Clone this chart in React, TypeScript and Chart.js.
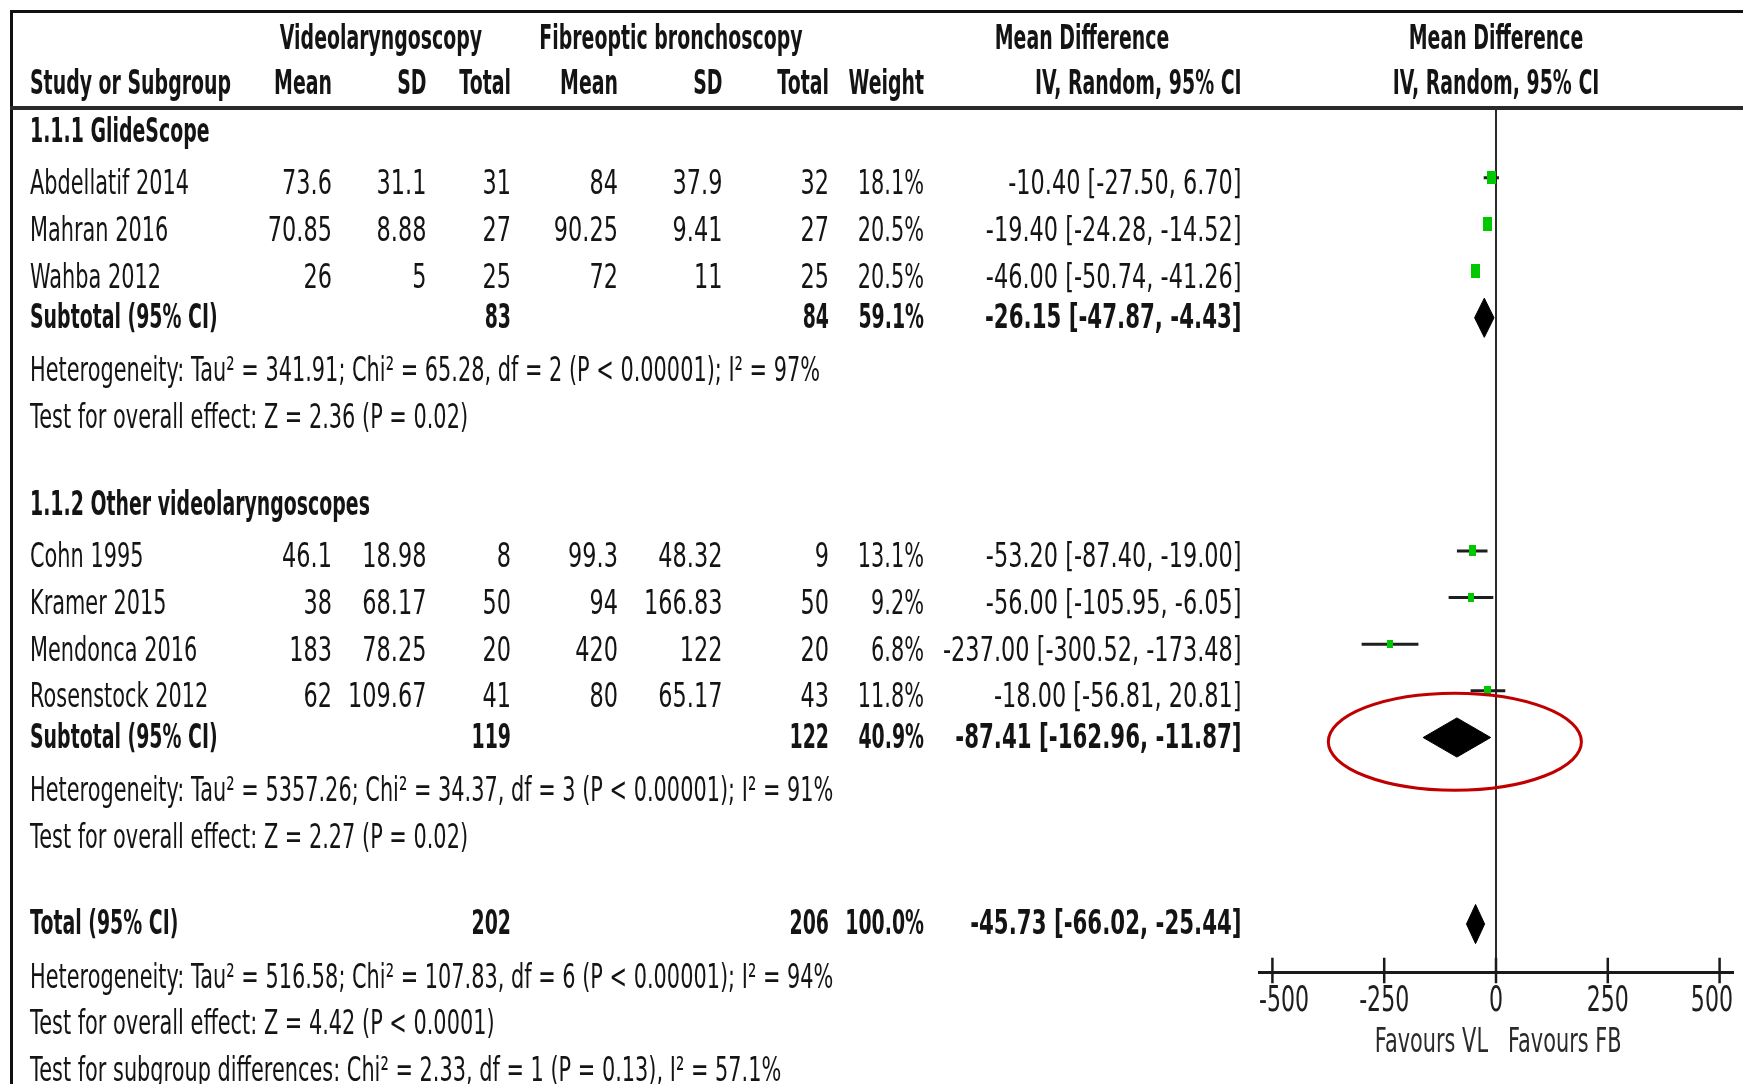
import React, { useEffect, useRef } from 'react';
import { Chart, registerables } from 'chart.js';

Chart.register(...registerables);

// ---------- data ----------
const studies = ['Abdellatif 2014', 'Mahran 2016', 'Wahba 2012', 'Cohn 1995', 'Kramer 2015', 'Mendonca 2016', 'Rosenstock 2012'];
const studyRows = [1, 2, 3, 9, 10, 11, 12];
const vlMean = [73.6, 70.85, 26, 46.1, 38, 183, 62];
const vlSD = [31.1, 8.88, 5, 18.98, 68.17, 78.25, 109.67];
const vlTotal = [31, 27, 25, 8, 50, 20, 41];
const fbMean = [84, 90.25, 72, 99.3, 94, 420, 80];
const fbSD = [37.9, 9.41, 11, 48.32, 166.83, 122, 65.17];
const fbTotal = [32, 27, 25, 9, 50, 20, 43];
const weight = [18.1, 20.5, 20.5, 13.1, 9.2, 6.8, 11.8];
const md = [-10.4, -19.4, -46.0, -53.2, -56.0, -237.0, -18.0];
const ciLow = [-27.5, -24.28, -50.74, -87.4, -105.95, -300.52, -56.81];
const ciHigh = [6.7, -14.52, -41.26, -19.0, -6.05, -173.48, 20.81];

const groupTitles = ['1.1.1 GlideScope', '1.1.2 Other videolaryngoscopes'];
const groupRows = [0, 8];

const summaryLabels = ['Subtotal (95% CI)', 'Subtotal (95% CI)', 'Total (95% CI)'];
const summaryRows = [4, 13, 17];
const summaryVlTotal = [83, 119, 202];
const summaryFbTotal = [84, 122, 206];
const summaryWeight = [59.1, 40.9, 100.0];
const summaryMd = [-26.15, -87.41, -45.73];
const summaryLow = [-47.87, -162.96, -66.02];
const summaryHigh = [-4.43, -11.87, -25.44];

const noteTexts = [
  'Heterogeneity: Tau\u00B2 = 341.91; Chi\u00B2 = 65.28, df = 2 (P < 0.00001); I\u00B2 = 97%',
  'Test for overall effect: Z = 2.36 (P = 0.02)',
  'Heterogeneity: Tau\u00B2 = 5357.26; Chi\u00B2 = 34.37, df = 3 (P < 0.00001); I\u00B2 = 91%',
  'Test for overall effect: Z = 2.27 (P = 0.02)',
  'Heterogeneity: Tau\u00B2 = 516.58; Chi\u00B2 = 107.83, df = 6 (P < 0.00001); I\u00B2 = 94%',
  'Test for overall effect: Z = 4.42 (P < 0.0001)',
  'Test for subgroup differences: Chi\u00B2 = 2.33, df = 1 (P = 0.13), I\u00B2 = 57.1%',
];
const noteRows = [5, 6, 14, 15, 18, 19, 20];

const tickValues = [-500, -250, 0, 250, 500];
const favourLabels = ['Favours VL', 'Favours FB'];
const groupHeaders = ['Videolaryngoscopy', 'Fibreoptic bronchoscopy', 'Mean Difference'];
const columnHeaders = ['Study or Subgroup', 'Mean', 'SD', 'Total', 'Mean', 'SD', 'Total', 'Weight', 'IV, Random, 95% CI'];
const plotHeaders = ['Mean Difference', 'IV, Random, 95% CI'];

// annotation (red ellipse) in data units
const highlight = { x: -92, row: 13.09, rx: 283, ry: 1.04 };

// ---------- layout / style ----------
const W = 1743;
const H = 1084;
const FONT = '"DejaVu Sans", sans-serif';
const FS = 34;
const TEXT = '#141414';
const GREEN = '#00c800';
const DIAMOND_HALF = 0.42;
const COL = {
  name: 30,
  vlMean: 332,
  vlSD: 426.5,
  vlTotal: 511,
  fbMean: 618,
  fbSD: 722.5,
  fbTotal: 829,
  weight: 924,
  ci: 1241.6,
  vlCenter: 381,
  fbCenter: 671,
  mdCenter: 1082,
};

const fmt2 = (v: number) => v.toFixed(2);
const ciText = (m: number, lo: number, hi: number) => `${fmt2(m)} [${fmt2(lo)}, ${fmt2(hi)}]`;

function squareImage(wt: number): HTMLCanvasElement {
  const c = document.createElement('canvas');
  const w = Math.round(4 + 0.25 * wt);
  const h = Math.round(5 + 0.45 * wt);
  c.width = w;
  c.height = h;
  const g = c.getContext('2d')!;
  g.fillStyle = GREEN;
  g.fillRect(0, 0, w, h);
  return c;
}

type Kind = 'r' | 'b' | 'n' | 'bn';

const tablePlugin = {
  id: 'forestTable',
  afterDraw(chart: any) {
    const ctx: CanvasRenderingContext2D = chart.ctx;
    const xs = chart.scales.x;
    const ys = chart.scales.y;
    const ca = chart.chartArea;
    const zero = xs.getPixelForValue(0);
    const rowY = (r: number) => ys.getPixelForValue(r);

    ctx.save();
    ctx.font = `${FS}px ${FONT}`;
    const sx: Record<Kind, number> = {
      r: 159 / ctx.measureText('Abdellatif 2014').width,
      n: 298.6 / ctx.measureText('-237.00 [-300.52, -173.48]').width,
      b: 0,
      bn: 0,
    };
    ctx.font = `bold ${FS}px ${FONT}`;
    sx.b = 201 / ctx.measureText('Study or Subgroup').width;
    sx.bn = 256.6 / ctx.measureText('-26.15 [-47.87, -4.43]').width;

    const txt = (
      s: string,
      x: number,
      cy: number,
      align: 'left' | 'right' | 'center',
      kind: Kind = 'r',
      size = FS,
      clampL = -Infinity,
      clampR = Infinity,
      color = TEXT
    ) => {
      const bold = kind === 'b' || kind === 'bn';
      ctx.font = `${bold ? 'bold ' : ''}${size}px ${FONT}`;
      const k = sx[kind];
      const w = ctx.measureText(s).width * k;
      let left = align === 'left' ? x : align === 'right' ? x - w : x - w / 2;
      if (left < clampL) left = clampL;
      if (left + w > clampR) left = clampR - w;
      ctx.save();
      ctx.translate(left, cy + 0.3645 * size);
      ctx.scale(k, 1);
      ctx.fillStyle = color;
      ctx.textAlign = 'left';
      ctx.textBaseline = 'alphabetic';
      ctx.fillText(s, 0, 0);
      ctx.restore();
    };

    // frame lines
    ctx.strokeStyle = '#111';
    ctx.lineWidth = 3;
    ctx.beginPath();
    ctx.moveTo(10, 11.5);
    ctx.lineTo(W, 11.5);
    ctx.moveTo(11.5, 10);
    ctx.lineTo(11.5, H);
    ctx.stroke();
    ctx.strokeStyle = '#2a2a2a';
    ctx.lineWidth = 4;
    ctx.beginPath();
    ctx.moveTo(10, 108);
    ctx.lineTo(W, 108);
    ctx.stroke();

    // headers
    const h1 = 36.2;
    const h2 = 81.5;
    txt(groupHeaders[0], COL.vlCenter, h1, 'center', 'b');
    txt(groupHeaders[1], COL.fbCenter, h1, 'center', 'b');
    txt(groupHeaders[2], COL.mdCenter, h1, 'center', 'b');
    txt(plotHeaders[0], zero, h1, 'center', 'b');
    const hx: [number, 'left' | 'right'][] = [
      [COL.name, 'left'], [COL.vlMean, 'right'], [COL.vlSD, 'right'], [COL.vlTotal, 'right'],
      [COL.fbMean, 'right'], [COL.fbSD, 'right'], [COL.fbTotal, 'right'], [COL.weight, 'right'], [COL.ci, 'right'],
    ];
    columnHeaders.forEach((s, i) => txt(s, hx[i][0], h2, hx[i][1], 'b'));
    txt(plotHeaders[1], zero, h2, 'center', 'b');

    // group titles
    groupTitles.forEach((s, i) => txt(s, COL.name, rowY(groupRows[i]) - 2, 'left', 'b'));

    // studies
    studies.forEach((s, i) => {
      const cy = rowY(studyRows[i]) + 4;
      txt(s, COL.name, cy, 'left');
      txt(String(vlMean[i]), COL.vlMean, cy, 'right', 'n');
      txt(String(vlSD[i]), COL.vlSD, cy, 'right', 'n');
      txt(String(vlTotal[i]), COL.vlTotal, cy, 'right', 'n');
      txt(String(fbMean[i]), COL.fbMean, cy, 'right', 'n');
      txt(String(fbSD[i]), COL.fbSD, cy, 'right', 'n');
      txt(String(fbTotal[i]), COL.fbTotal, cy, 'right', 'n');
      txt(weight[i].toFixed(1) + '%', COL.weight, cy, 'right', 'r');
      txt(ciText(md[i], ciLow[i], ciHigh[i]), COL.ci, cy, 'right', 'n');
    });

    // summaries
    summaryLabels.forEach((s, i) => {
      const cy = rowY(summaryRows[i]) - 2;
      txt(s, COL.name, cy, 'left', 'b');
      txt(String(summaryVlTotal[i]), COL.vlTotal, cy, 'right', 'b');
      txt(String(summaryFbTotal[i]), COL.fbTotal, cy, 'right', 'b');
      txt(summaryWeight[i].toFixed(1) + '%', COL.weight, cy, 'right', 'b');
      txt(ciText(summaryMd[i], summaryLow[i], summaryHigh[i]), COL.ci, cy, 'right', 'bn');
    });

    // notes
    noteTexts.forEach((s, i) => txt(s, COL.name, rowY(noteRows[i]) + 4.5, 'left'));

    // axis tick marks (crossing the axis line)
    ctx.strokeStyle = '#1a1a1a';
    ctx.lineWidth = 2.5;
    ctx.beginPath();
    xs.ticks.forEach((t: any) => {
      const px = xs.getPixelForValue(t.value);
      ctx.moveTo(px, ca.bottom - 15);
      ctx.lineTo(px, ca.bottom + 10.5);
    });
    ctx.stroke();

    // tick labels
    xs.ticks.forEach((t: any) => {
      const px = xs.getPixelForValue(t.value);
      txt(String(t.value), px, ca.bottom + 25.5, 'center', 'r', 36, ca.left, ca.right, '#1e1e1e');
    });

    // favours labels
    txt(favourLabels[0], zero - 8, ca.bottom + 66.5, 'right', 'r', FS, -Infinity, Infinity, '#2a2a2a');
    txt(favourLabels[1], zero + 12, ca.bottom + 66.5, 'left', 'r', FS, -Infinity, Infinity, '#2a2a2a');

    // highlight ellipse
    const cx = xs.getPixelForValue(highlight.x);
    const cy = ys.getPixelForValue(highlight.row);
    const rx = Math.abs(xs.getPixelForValue(highlight.x + highlight.rx) - cx);
    const ry = Math.abs(ys.getPixelForValue(highlight.row + highlight.ry) - cy);
    ctx.strokeStyle = '#c00000';
    ctx.lineWidth = 3;
    ctx.beginPath();
    ctx.ellipse(cx, cy, rx, ry, 0, 0, Math.PI * 2);
    ctx.stroke();

    ctx.restore();
  },
};

export default function App() {
  const ref = useRef<HTMLCanvasElement | null>(null);

  useEffect(() => {
    if (!ref.current) return;

    const ciSets = studies.map((s, i) => ({
      type: 'line' as const,
      label: s,
      data: [
        { x: ciLow[i], y: studyRows[i] },
        { x: ciHigh[i], y: studyRows[i] },
      ],
      borderColor: '#1e1e1e',
      borderWidth: 3,
      pointRadius: 0,
      fill: false,
      order: 2,
    }));

    const squareSet = {
      type: 'scatter' as const,
      label: 'Study estimates',
      data: studies.map((_, i) => ({ x: md[i], y: studyRows[i] })),
      pointStyle: weight.map((w) => squareImage(w)),
      pointRadius: 5,
      showLine: false,
      order: 0,
    };

    const diamondSets = summaryMd.map((m, i) => {
      const r = summaryRows[i];
      return {
        type: 'line' as const,
        label: summaryLabels[i],
        data: [
          { x: summaryLow[i], y: r },
          { x: m, y: r - DIAMOND_HALF },
          { x: summaryHigh[i], y: r },
          { x: m, y: r + DIAMOND_HALF },
          { x: summaryLow[i], y: r },
        ],
        borderColor: '#000',
        backgroundColor: '#000',
        borderWidth: 1,
        pointRadius: 0,
        tension: 0,
        fill: 'shape',
        order: 1,
      };
    });

    const chart = new Chart(ref.current, {
      type: 'scatter',
      data: { datasets: [squareSet, ...ciSets, ...diamondSets] as any },
      options: {
        responsive: false,
        animation: false,
        devicePixelRatio: 1,
        events: [],
        layout: { padding: { left: 1259, right: 10, top: 107, bottom: 101.3 } },
        plugins: { legend: { display: false }, tooltip: { enabled: false } },
        scales: {
          x: {
            type: 'linear',
            min: -530,
            max: 530,
            afterBuildTicks: (s: any) => {
              s.ticks = tickValues.map((v) => ({ value: v }));
            },
            afterFit: (s: any) => {
              s.height = 10;
            },
            ticks: { display: false },
            grid: {
              drawTicks: false,
              lineWidth: 2,
              color: (c: any) => (c.tick && c.tick.value === 0 ? '#2a2a2a' : 'rgba(0,0,0,0)'),
            },
            border: { display: true, color: '#1a1a1a', width: 3 },
          },
          y: {
            type: 'linear',
            reverse: true,
            min: -0.519,
            max: 18.043,
            display: false,
          },
        },
      },
      plugins: [tablePlugin],
    });

    return () => chart.destroy();
  }, []);

  return (
    <div style={{ position: 'absolute', left: 0, top: 0, width: W, height: H }}>
      <canvas ref={ref} width={W} height={H} style={{ display: 'block' }} />
    </div>
  );
}
